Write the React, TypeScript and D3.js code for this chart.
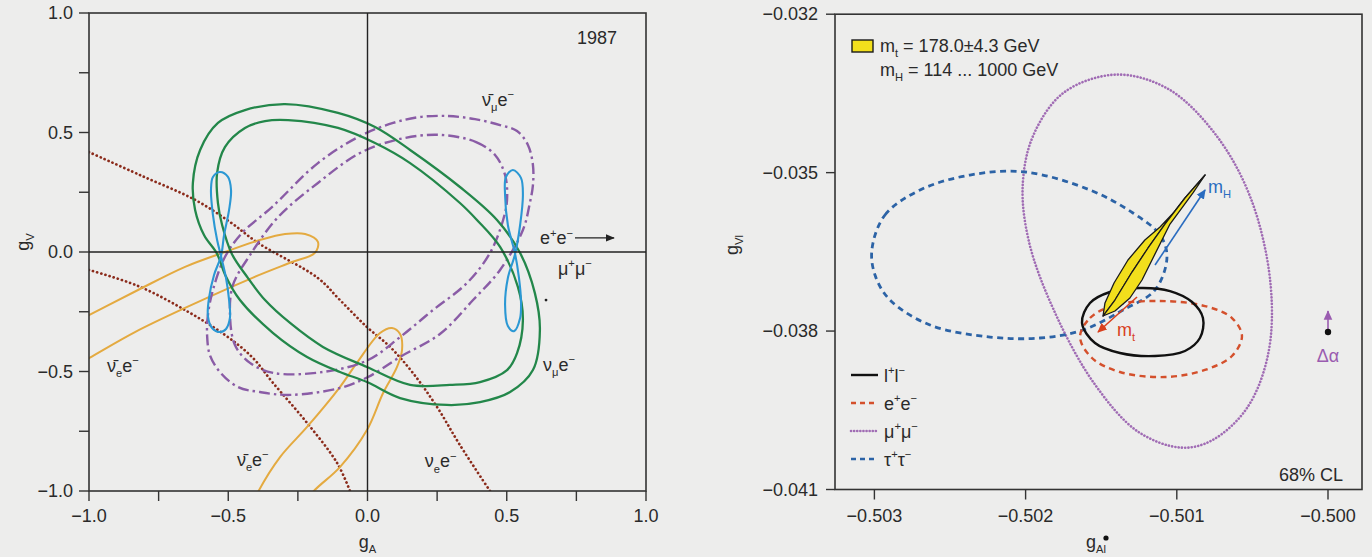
import React from "react";
import * as d3 from "d3";

type P = [number, number];

// ---------- left panel (1987): g_A horizontal, g_V vertical ----------
const nuMuOuter: P[] = [
  [-0.296, 0.619], [-0.106, 0.582], [0.027, 0.523], [0.153, 0.427], [0.332, 0.272],
  [0.465, 0.134], [0.548, -0.004], [0.601, -0.172], [0.619, -0.326], [0.594, -0.494],
  [0.512, -0.586], [0.404, -0.628], [0.285, -0.64], [0.117, -0.611], [-0.002, -0.544],
  [-0.099, -0.502], [-0.217, -0.439], [-0.339, -0.339], [-0.458, -0.201], [-0.511, -0.096],
  [-0.54, -0.008], [-0.587, 0.071], [-0.619, 0.176], [-0.627, 0.289], [-0.601, 0.427],
  [-0.537, 0.54], [-0.44, 0.594],
];
const nuMuInner: P[] = [
  [-0.285, 0.552], [-0.106, 0.519], [0.027, 0.456], [0.153, 0.372], [0.332, 0.205],
  [0.393, 0.134], [0.476, 0.021], [0.54, -0.146], [0.558, -0.285], [0.537, -0.423],
  [0.501, -0.494], [0.404, -0.544], [0.296, -0.556], [0.153, -0.556], [-0.002, -0.481],
  [-0.16, -0.397], [-0.278, -0.297], [-0.368, -0.201], [-0.429, -0.109], [-0.487, -0.008],
  [-0.522, 0.113], [-0.537, 0.205], [-0.54, 0.331], [-0.512, 0.439], [-0.44, 0.519],
  [-0.368, 0.548],
];
const nuMuBarOuter: P[] = [
  [0.189, 0.565], [0.289, 0.569], [0.386, 0.556], [0.476, 0.531], [0.537, 0.506],
  [0.576, 0.448], [0.594, 0.364], [0.594, 0.28], [0.583, 0.205], [0.558, 0.092],
  [0.476, -0.075], [0.379, -0.201], [0.26, -0.343], [0.117, -0.439], [0.002, -0.523],
  [-0.099, -0.569], [-0.278, -0.598], [-0.386, -0.586], [-0.465, -0.565], [-0.53, -0.502],
  [-0.566, -0.431], [-0.576, -0.347], [-0.573, -0.264], [-0.555, -0.159], [-0.512, -0.021],
  [-0.451, 0.079], [-0.343, 0.188], [-0.178, 0.372], [-0.027, 0.485], [0.092, 0.54],
];
const nuMuBarInner: P[] = [
  [0.26, 0.49], [0.39, 0.46], [0.458, 0.406], [0.494, 0.322], [0.501, 0.218],
  [0.487, 0.134], [0.44, -0.004], [0.357, -0.13], [0.235, -0.243], [0.117, -0.356],
  [0.002, -0.452], [-0.16, -0.502], [-0.339, -0.506], [-0.422, -0.464], [-0.476, -0.389],
  [-0.494, -0.251], [-0.483, -0.138], [-0.422, -0.013], [-0.321, 0.146], [-0.178, 0.289],
  [-0.027, 0.414], [0.117, 0.473],
];
const eeLeft: P[] = [
  [-0.526, -0.017], [-0.515, 0.071], [-0.497, 0.176], [-0.49, 0.259], [-0.501, 0.314],
  [-0.53, 0.335], [-0.555, 0.314], [-0.562, 0.259], [-0.555, 0.155], [-0.54, 0.05],
  [-0.526, -0.017], [-0.508, -0.109], [-0.497, -0.201], [-0.494, -0.276], [-0.508, -0.322],
  [-0.53, -0.335], [-0.558, -0.318], [-0.573, -0.268], [-0.569, -0.192], [-0.551, -0.096],
];
const eeRight: P[] = [
  [0.53, -0.008], [0.548, 0.113], [0.558, 0.238], [0.551, 0.31], [0.522, 0.343],
  [0.497, 0.314], [0.494, 0.238], [0.504, 0.113], [0.53, -0.008], [0.544, -0.109],
  [0.551, -0.201], [0.548, -0.276], [0.526, -0.331], [0.504, -0.31], [0.494, -0.222],
  [0.504, -0.109],
];
const nuEBarUpper: P[] = [
  [-1.248, -0.464], [-1.176, -0.368], [-1.0, -0.264], [-0.824, -0.159], [-0.655, -0.062],
  [-0.512, 0.0], [-0.386, 0.05], [-0.296, 0.075], [-0.224, 0.075], [-0.178, 0.042],
  [-0.189, -0.004], [-0.271, -0.042], [-0.415, -0.109], [-0.655, -0.234], [-0.835, -0.335],
  [-1.0, -0.444], [-1.176, -0.561],
];
const nuEBarLower: P[] = [
  [-0.422, -1.079], [-0.393, -1.004], [-0.314, -0.858], [-0.217, -0.732], [-0.099, -0.565],
  [-0.038, -0.464], [0.045, -0.339], [0.088, -0.318], [0.117, -0.343], [0.124, -0.41],
  [0.106, -0.481], [0.056, -0.59], [-0.002, -0.745], [-0.099, -0.9], [-0.196, -1.004],
  [-0.242, -1.079], [-0.332, -1.121],
];
const nuEUpper: P[] = [
  [-1.0, 0.418], [-0.817, 0.322], [-0.619, 0.218], [-0.494, 0.126], [-0.393, 0.038],
  [-0.178, -0.109], [-0.099, -0.201], [-0.002, -0.314], [0.081, -0.397], [0.163, -0.506],
  [0.25, -0.649], [0.332, -0.808], [0.44, -1.0],
];
const nuELower: P[] = [
  [-1.0, -0.075], [-0.824, -0.142], [-0.655, -0.243], [-0.512, -0.347], [-0.415, -0.439],
  [-0.339, -0.548], [-0.217, -0.715], [-0.109, -0.883], [-0.063, -1.0],
];
const leftTicks = [-1, -0.75, -0.5, -0.25, 0, 0.25, 0.5, 0.75, 1];
const leftTickLabels = [-1, -0.5, 0, 0.5, 1];

// ---------- right panel: g_Al horizontal, g_Vl vertical ----------
const llContour: P[] = [
  [-0.501627, -0.037847], [-0.501574, -0.037469], [-0.501442, -0.03726], [-0.501243, -0.037185],
  [-0.501045, -0.037242], [-0.500899, -0.03745], [-0.500827, -0.037753], [-0.500847, -0.038132],
  [-0.500946, -0.038377], [-0.501144, -0.038472], [-0.501376, -0.038415], [-0.501541, -0.038226],
];
const eeContour: P[] = [
  [-0.50164, -0.038113], [-0.501574, -0.037753], [-0.501409, -0.037507], [-0.501111, -0.037431],
  [-0.500814, -0.037526], [-0.500635, -0.037753], [-0.500569, -0.038094], [-0.500635, -0.038472],
  [-0.500814, -0.038737], [-0.501078, -0.03887], [-0.501376, -0.038775], [-0.501561, -0.03851],
];
const mumuContour: P[] = [
  [-0.501402, -0.033144], [-0.501058, -0.033413], [-0.500741, -0.034287], [-0.500509, -0.035499],
  [-0.50038, -0.037109], [-0.500397, -0.038453], [-0.500538, -0.039466], [-0.500769, -0.040072],
  [-0.500972, -0.040207], [-0.501257, -0.039904], [-0.501545, -0.038997], [-0.501806, -0.03765],
  [-0.501978, -0.036306], [-0.502019, -0.035229], [-0.501948, -0.034287], [-0.501746, -0.033481],
];
const tautauContour: P[] = [
  [-0.503016, -0.036446], [-0.50293, -0.035802], [-0.502698, -0.035329], [-0.502368, -0.035045],
  [-0.502004, -0.034988], [-0.501574, -0.035329], [-0.50129, -0.035764], [-0.501111, -0.036181],
  [-0.501065, -0.036598], [-0.501144, -0.037222], [-0.501356, -0.037601], [-0.50162, -0.03798],
  [-0.501905, -0.038131], [-0.502235, -0.038113], [-0.502632, -0.037885], [-0.502897, -0.037412],
  [-0.502996, -0.036939],
];
// SM prediction, two slivers sharing a middle edge
const smBandA: P[] = [
  [-0.501488, -0.037715], [-0.501475, -0.037468], [-0.501415, -0.03709], [-0.501323, -0.036654],
  [-0.501211, -0.036276], [-0.501111, -0.03603], [-0.500992, -0.03567], [-0.500813, -0.035045],
  [-0.500946, -0.03548], [-0.501078, -0.035973], [-0.50119, -0.036427], [-0.501296, -0.036882],
  [-0.501409, -0.037412],
];
const smBandB: P[] = [
  [-0.501488, -0.037715], [-0.501409, -0.037412], [-0.501296, -0.036882], [-0.50119, -0.036427],
  [-0.501078, -0.035973], [-0.500946, -0.03548], [-0.500813, -0.035045], [-0.500893, -0.035385],
  [-0.501045, -0.035973], [-0.501164, -0.036654], [-0.50123, -0.037033], [-0.50131, -0.037374],
  [-0.501409, -0.03762],
];
const mHArrow: P[] = [[-0.501144, -0.036749], [-0.500813, -0.035329]];
const mtArrow: P[] = [[-0.501263, -0.037355], [-0.501521, -0.038018]];
const dAlphaArrow: P[] = [[-0.5, -0.038018], [-0.5, -0.037622]];
const rightXTicks = [-0.503, -0.502, -0.501, -0.5];
const rightYTicks = [-0.041, -0.038, -0.035, -0.032];

const FONT = "'Liberation Sans', Arial, Helvetica, sans-serif";
const BG = "#ededec";

const xL = d3.scaleLinear().domain([-1, 1]).range([89, 646]);
const yL = d3.scaleLinear().domain([-1, 1]).range([491, 13]);
const xR = d3.scaleLinear().domain([-0.503, -0.5]).range([874.4, 1328]);
const yR = d3.scaleLinear().domain([-0.041, -0.032]).range([489.5, 14.2]);
const R_LEFT = 835;
const R_RIGHT = 1362;

const closedL = d3.line<P>().x((d) => xL(d[0])).y((d) => yL(d[1])).curve(d3.curveCatmullRomClosed.alpha(0.5));
const openL = d3.line<P>().x((d) => xL(d[0])).y((d) => yL(d[1])).curve(d3.curveCatmullRom.alpha(0.5));
const closedR = d3.line<P>().x((d) => xR(d[0])).y((d) => yR(d[1])).curve(d3.curveCatmullRomClosed.alpha(0.5));
const polyR = d3.line<P>().x((d) => xR(d[0])).y((d) => yR(d[1])).curve(d3.curveLinearClosed);

type Part = [string, "n" | "sup" | "sub"];

function Rich(props: {
  x: number; y: number; parts: Part[]; size?: number; fill?: string;
  anchor?: string; transform?: string;
}) {
  const { x, y, parts, size = 18, fill = "#2a2a2a", anchor = "start", transform } = props;
  let off = 0;
  const spans = parts.map(([t, k], i) => {
    const target = k === "sup" ? -size * 0.42 : k === "sub" ? size * 0.3 : 0;
    const dy = target - off;
    off = target;
    return (
      <tspan key={i} dy={dy} fontSize={k === "n" ? size : size * 0.62}>
        {t}
      </tspan>
    );
  });
  return (
    <text x={x} y={y} fill={fill} fontFamily={FONT} fontSize={size} textAnchor={anchor} transform={transform}>
      {spans}
    </text>
  );
}

const NUBAR = "\u03bd\u0304";
const fmt1 = d3.format(".1f");
const fmt3 = d3.format(".3f");

function LeftPanel() {
  const green = "#23874a";
  const purple = "#8a5ca6";
  const blue = "#2b98d4";
  const orange = "#e4aa40";
  const dotted = "#8b2b1b";
  const dashDot = "11 4 2.5 4";
  return (
    <g>
      <defs>
        <clipPath id="clipL">
          <rect x={xL(-1)} y={yL(1)} width={xL(1) - xL(-1)} height={yL(-1) - yL(1)} />
        </clipPath>
        <marker id="arrBlack" viewBox="0 0 10 10" refX="9" refY="5" markerWidth="7" markerHeight="7" orient="auto">
          <path d="M0,1 L10,5 L0,9 z" fill="#222" />
        </marker>
      </defs>
      <g clipPath="url(#clipL)" fill="none">
        <path d={openL(nuEUpper)!} stroke={dotted} strokeWidth={2.7} strokeDasharray="0.1 4.2" strokeLinecap="round" />
        <path d={openL(nuELower)!} stroke={dotted} strokeWidth={2.7} strokeDasharray="0.1 4.2" strokeLinecap="round" />
        <path d={closedL(nuEBarUpper)!} stroke={orange} strokeWidth={2} />
        <path d={closedL(nuEBarLower)!} stroke={orange} strokeWidth={2} />
        <path d={closedL(nuMuBarOuter)!} stroke={purple} strokeWidth={2.4} strokeDasharray={dashDot} />
        <path d={closedL(nuMuBarInner)!} stroke={purple} strokeWidth={2.4} strokeDasharray={dashDot} />
        <path d={closedL(nuMuOuter)!} stroke={green} strokeWidth={2.3} />
        <path d={closedL(nuMuInner)!} stroke={green} strokeWidth={2.3} />
        <path d={closedL(eeLeft)!} stroke={blue} strokeWidth={2.1} />
        <path d={closedL(eeRight)!} stroke={blue} strokeWidth={2.1} />
      </g>
      {/* frame and zero lines */}
      <rect x={xL(-1)} y={yL(1)} width={xL(1) - xL(-1)} height={yL(-1) - yL(1)} fill="none" stroke="#333" strokeWidth={1.6} />
      <line x1={xL(0)} x2={xL(0)} y1={yL(1)} y2={yL(-1)} stroke="#222" strokeWidth={1.4} />
      <line x1={xL(-1)} x2={xL(1)} y1={yL(0)} y2={yL(0)} stroke="#222" strokeWidth={1.4} />
      {leftTicks.map((t) => (
        <g key={"t" + t} stroke="#333" strokeWidth={1.4}>
          <line x1={xL(t)} x2={xL(t)} y1={yL(-1)} y2={yL(-1) + 10} />
          <line x1={xL(-1) - 10} x2={xL(-1)} y1={yL(t)} y2={yL(t)} />
        </g>
      ))}
      {leftTickLabels.map((t) => (
        <g key={"l" + t} fontFamily={FONT} fontSize={18} fill="#2a2a2a">
          <text x={xL(t)} y={522} textAnchor="middle">{fmt1(t)}</text>
          <text x={73} y={yL(t) + 6} textAnchor="end">{fmt1(t)}</text>
        </g>
      ))}
      <Rich x={xL(0)} y={548} anchor="middle" parts={[["g", "n"], ["A", "sub"]]} />
      <Rich x={0} y={0} transform={`translate(29,${yL(0) - 10}) rotate(-90)`} anchor="middle" parts={[["g", "n"], ["V", "sub"]]} />

      <text x={xL(0.896)} y={yL(0.87)} textAnchor="end" fontFamily={FONT} fontSize={18} fill="#2a2a2a">1987</text>
      <Rich x={xL(0.411)} y={yL(0.611)} parts={[[NUBAR, "n"], ["\u03bc", "sub"], ["e", "n"], ["\u2212", "sup"]]} />
      <Rich x={xL(0.619)} y={yL(0.033)} parts={[["e", "n"], ["+", "sup"], ["e", "n"], ["\u2212", "sup"]]} />
      <line x1={xL(0.745)} x2={xL(0.885)} y1={yL(0.059)} y2={yL(0.059)} stroke="#222" strokeWidth={1.3} markerEnd="url(#arrBlack)" />
      <Rich x={xL(0.684)} y={yL(-0.096)} parts={[["\u03bc", "n"], ["+", "sup"], ["\u03bc", "n"], ["\u2212", "sup"]]} />
      <circle cx={xL(0.641)} cy={yL(-0.201)} r={1.4} fill="#222" />
      <Rich x={xL(0.63)} y={yL(-0.498)} parts={[["\u03bd", "n"], ["\u03bc", "sub"], ["e", "n"], ["\u2212", "sup"]]} />
      <Rich x={xL(0.206)} y={yL(-0.9)} parts={[["\u03bd", "n"], ["e", "sub"], ["e", "n"], ["\u2212", "sup"]]} />
      <Rich x={xL(-0.935)} y={yL(-0.502)} parts={[[NUBAR, "n"], ["e", "sub"], ["e", "n"], ["\u2212", "sup"]]} />
      <Rich x={xL(-0.469)} y={yL(-0.895)} parts={[[NUBAR, "n"], ["e", "sub"], ["e", "n"], ["\u2212", "sup"]]} />
    </g>
  );
}

function RightPanel() {
  const red = "#d4502c";
  const blue = "#2c63a6";
  const purple = "#a06cb4";
  const mHblue = "#2a6cc0";
  const top = yR(-0.032);
  const bottom = yR(-0.041);
  const legendRows: { label: Part[]; stroke: string; dash?: string; width: number; cap?: string }[] = [
    { label: [["l", "n"], ["+", "sup"], ["l", "n"], ["\u2212", "sup"]], stroke: "#111", width: 2.4 },
    { label: [["e", "n"], ["+", "sup"], ["e", "n"], ["\u2212", "sup"]], stroke: red, dash: "5 4", width: 2.3 },
    { label: [["\u03bc", "n"], ["+", "sup"], ["\u03bc", "n"], ["\u2212", "sup"]], stroke: purple, dash: "0.1 3", width: 2.6, cap: "round" },
    { label: [["\u03c4", "n"], ["+", "sup"], ["\u03c4", "n"], ["\u2212", "sup"]], stroke: blue, dash: "5 4", width: 2.6 },
  ];
  const legendY = [375, 403, 431, 459];
  return (
    <g>
      <defs>
        <clipPath id="clipR">
          <rect x={R_LEFT} y={top} width={R_RIGHT - R_LEFT} height={bottom - top} />
        </clipPath>
        <marker id="arrBlue" viewBox="0 0 10 10" refX="9" refY="5" markerWidth="6" markerHeight="6" orient="auto">
          <path d="M0,0.5 L10,5 L0,9.5 z" fill={mHblue} />
        </marker>
        <marker id="arrRed" viewBox="0 0 10 10" refX="9" refY="5" markerWidth="6" markerHeight="6" orient="auto">
          <path d="M0,0.5 L10,5 L0,9.5 z" fill="#d8401e" />
        </marker>
        <marker id="arrPurple" viewBox="0 0 10 10" refX="9" refY="5" markerWidth="6" markerHeight="6" orient="auto">
          <path d="M0,0.5 L10,5 L0,9.5 z" fill="#9a5cb0" />
        </marker>
      </defs>
      <g clipPath="url(#clipR)" fill="none">
        <path d={closedR(mumuContour)!} stroke={purple} strokeWidth={2.6} strokeDasharray="0.1 3.2" strokeLinecap="round" />
        <path d={closedR(tautauContour)!} stroke={blue} strokeWidth={2.8} strokeDasharray="6 4.5" />
        <path d={closedR(eeContour)!} stroke={red} strokeWidth={2.4} strokeDasharray="6 4.5" />
        <path d={closedR(llContour)!} stroke="#111" strokeWidth={2.4} />
        <path d={polyR(smBandA)!} fill="#f2df1c" stroke="#1a1a1a" strokeWidth={1.3} strokeLinejoin="round" />
        <path d={polyR(smBandB)!} fill="#f2df1c" stroke="#1a1a1a" strokeWidth={1.3} strokeLinejoin="round" />
        <line x1={xR(mHArrow[0][0])} y1={yR(mHArrow[0][1])} x2={xR(mHArrow[1][0])} y2={yR(mHArrow[1][1])} stroke={mHblue} strokeWidth={1.6} markerEnd="url(#arrBlue)" />
        <line x1={xR(mtArrow[0][0])} y1={yR(mtArrow[0][1])} x2={xR(mtArrow[1][0])} y2={yR(mtArrow[1][1])} stroke="#d8401e" strokeWidth={1.6} markerEnd="url(#arrRed)" />
        <line x1={xR(dAlphaArrow[0][0])} y1={yR(dAlphaArrow[0][1])} x2={xR(dAlphaArrow[1][0])} y2={yR(dAlphaArrow[1][1])} stroke="#9a5cb0" strokeWidth={1.6} markerEnd="url(#arrPurple)" />
        <circle cx={xR(dAlphaArrow[0][0])} cy={yR(dAlphaArrow[0][1])} r={3.2} fill="#111" />
      </g>
      <rect x={R_LEFT} y={top} width={R_RIGHT - R_LEFT} height={bottom - top} fill="none" stroke="#333" strokeWidth={1.6} />
      {rightXTicks.map((t) => (
        <g key={"x" + t}>
          <line x1={xR(t)} x2={xR(t)} y1={bottom} y2={bottom + 10} stroke="#333" strokeWidth={1.4} />
          <text x={xR(t)} y={522} textAnchor="middle" fontFamily={FONT} fontSize={18} fill="#2a2a2a">{fmt3(t)}</text>
        </g>
      ))}
      {rightYTicks.map((t) => (
        <g key={"y" + t}>
          <line x1={R_LEFT - 9} x2={R_LEFT} y1={yR(t)} y2={yR(t)} stroke="#333" strokeWidth={1.4} />
          <text x={818} y={yR(t) + 6} textAnchor="end" fontFamily={FONT} fontSize={18} fill="#2a2a2a">{fmt3(t)}</text>
        </g>
      ))}
      <Rich x={1096} y={548} anchor="middle" parts={[["g", "n"], ["Al", "sub"]]} />
      <circle cx={1106} cy={538} r={2.6} fill="#111" />
      <Rich x={0} y={0} transform={`translate(738,245) rotate(-90)`} anchor="middle" parts={[["g", "n"], ["Vl", "sub"]]} />

      {/* top legend */}
      <rect x={852} y={40} width={21} height={12} fill="#f2df1c" stroke="#1a1a1a" strokeWidth={1.4} />
      <Rich x={880} y={52} parts={[["m", "n"], ["t", "sub"], [" = 178.0\u00b14.3 GeV", "n"]]} />
      <Rich x={880} y={76} parts={[["m", "n"], ["H", "sub"], [" = 114 ... 1000 GeV", "n"]]} />

      <Rich x={1208} y={193} fill={mHblue} parts={[["m", "n"], ["H", "sub"]]} />
      <Rich x={1117} y={336} fill="#d8401e" parts={[["m", "n"], ["t", "sub"]]} />
      <text x={xR(-0.5)} y={362} textAnchor="middle" fontFamily={FONT} fontSize={18} fill="#9a5cb0">{"\u0394\u03b1"}</text>

      {/* bottom legend */}
      {legendRows.map((r, i) => (
        <g key={i}>
          <line x1={851} x2={878} y1={legendY[i]} y2={legendY[i]} stroke={r.stroke} strokeWidth={r.width} strokeDasharray={r.dash} strokeLinecap={r.cap as any} />
          <Rich x={884} y={legendY[i] + 7} parts={r.label} />
        </g>
      ))}
      <text x={1343} y={481} textAnchor="end" fontFamily={FONT} fontSize={18} fill="#2a2a2a">68% CL</text>
    </g>
  );
}

export default function App() {
  return (
    <svg width={1372} height={557} style={{ position: "absolute", left: 0, top: 0, display: "block" }}>
      <rect x={0} y={0} width={1372} height={557} fill={BG} />
      <LeftPanel />
      <RightPanel />
    </svg>
  );
}
